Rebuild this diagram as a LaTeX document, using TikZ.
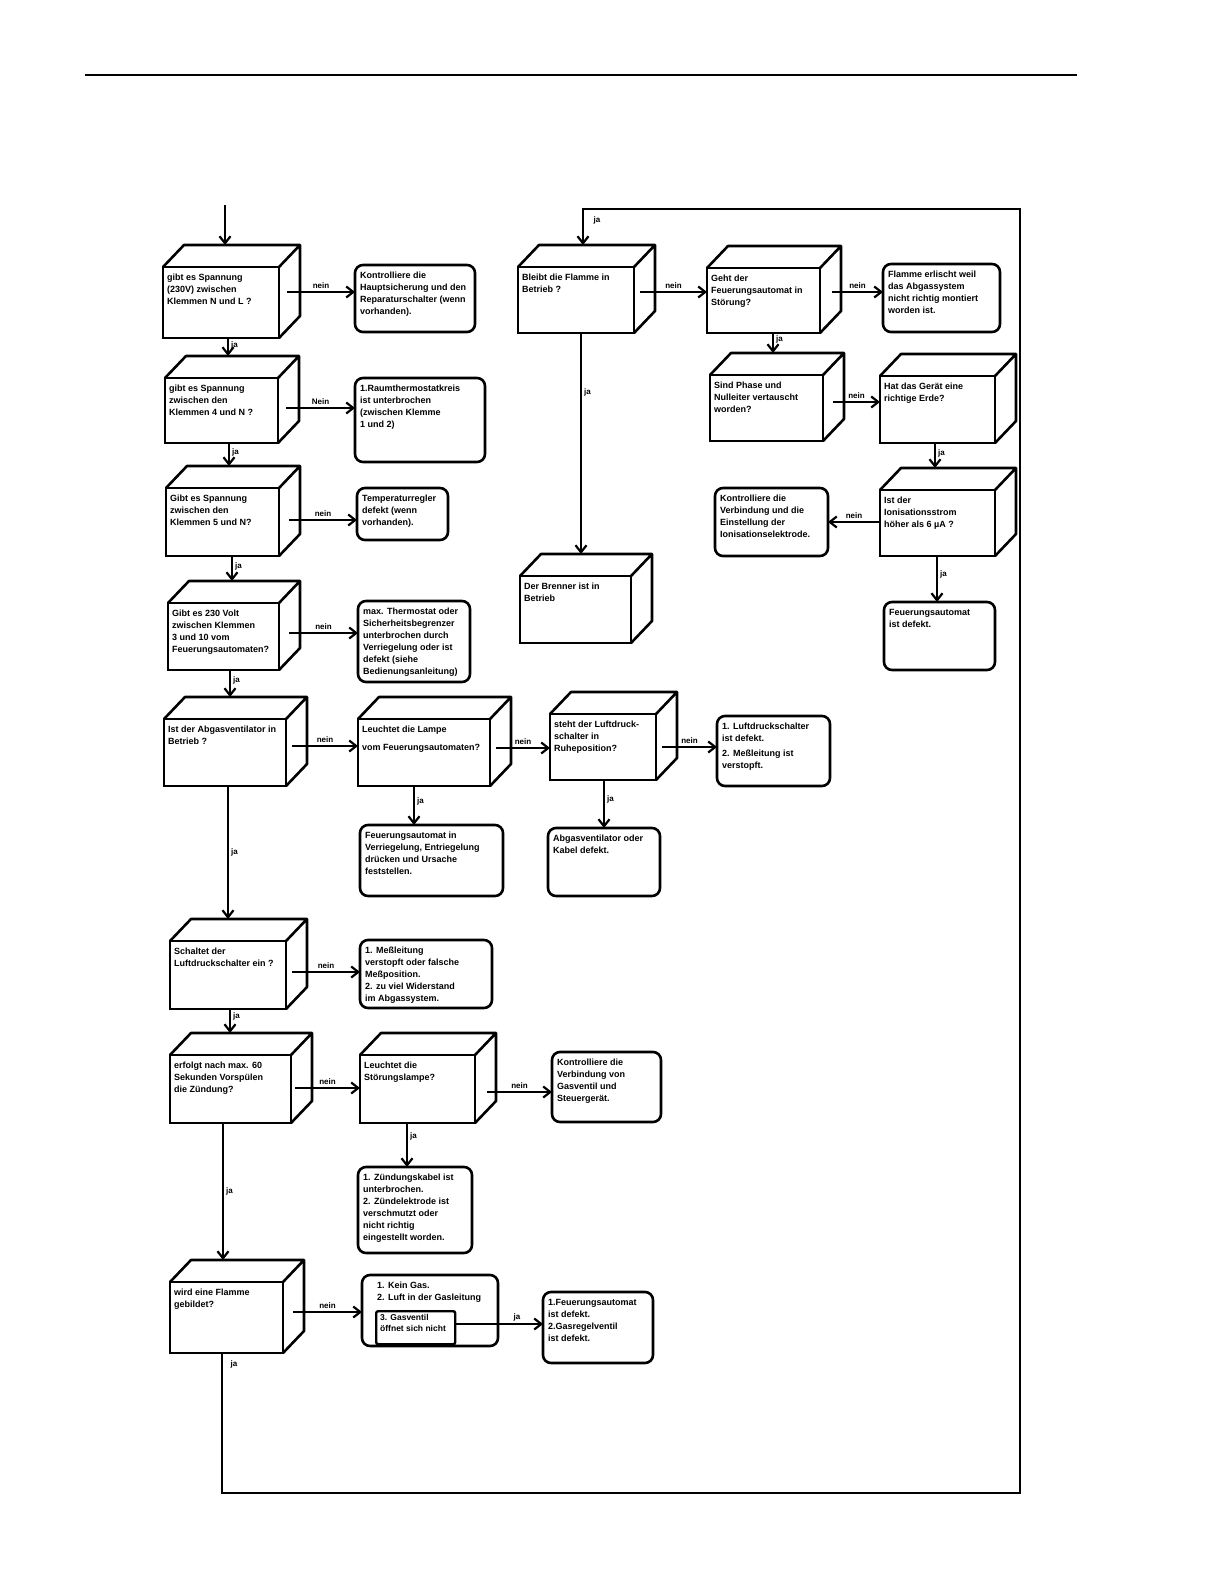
\documentclass[tikz,border=0pt]{standalone}
\usepackage{fontspec}
\setmainfont{Liberation Sans}
\usetikzlibrary{arrows.meta,calc}
\tikzset{
  box/.style={draw, line width=2.6pt, inner sep=0pt, outer sep=0pt, anchor=north west},
  res/.style={draw, line width=2.6pt, rounded corners=8pt, inner sep=0pt, outer sep=0pt, anchor=north west},
  txt/.style={anchor=north west, align=left, inner sep=0pt, font=\bfseries\fontsize{9}{12}\selectfont},
  face/.style={line width=2.6pt, line join=round},
  arr/.style={line width=2.4pt, -{Straight Barb[length=7pt,width=11pt,line width=2.2pt]}},
  lbl/.style={font=\bfseries\fontsize{8}{9}\selectfont, inner sep=2pt}
}
\newcommand\Cube[6]{%
  \node[box, minimum width={#4-#2}, minimum height={#5-#3}] (#1) at (#2,#3) {};
  \draw[face] (#1.north west) -- ++(21,-22) -- ($(#1.north east)+(21,-22)$)
    -- ($(#1.south east)+(21,-22)$) -- (#1.south east)
    (#1.north east) -- ++(21,-22);
  \node[txt] (#1t) at ($(#1.north west)+(4,7)$) {#6};
}
\newcommand\Res{}
\renewcommand\Res[6]{%
  \node[res, minimum width={#4-#2}, minimum height={#5-#3}] (#1) at (#2,#3) {};
  \node[txt] (#1t) at ($(#1.north west)+(5,7)$) {#6};
}
% horizontal arrow: from, to, y, start offset, label
\newcommand\HA[5]{\draw[arr] ($(#1.east |- 0,#3)+(#4,0)$) -- (#2.west |- 0,#3) node[lbl,above,midway]{#5};}
% vertical arrow into a cube: from, to, x, label pos
\newcommand\VC[4]{\draw[arr] (#1.south -| #3,0) -- ($(#2.north -| #3,0)+(0,-22)$) node[lbl,right,pos=#4]{ja};}
% vertical arrow into a result box
\newcommand\VR[4]{\draw[arr] (#1.south -| #3,0) -- (#2.north -| #3,0) node[lbl,right,pos=#4]{ja};}
\begin{document}
\begin{tikzpicture}[x=1pt,y=-1pt]
\fill[white] (0,0) rectangle (1224,1584);
\useasboundingbox (0,0) rectangle (1224,1584);
\draw[line width=1.2pt] (85,75) -- (1077,75);

% left column
\Cube{C1}{163}{267}{279}{338}{gibt es Spannung\\(230V) zwischen\\Klemmen N und L ?}
\Res{R1}{355}{265}{475}{332}{Kontrolliere die\\Hauptsicherung und den\\Reparaturschalter (wenn\\vorhanden).}
\Cube{C2}{165}{378}{278}{443}{gibt es Spannung\\zwischen den\\Klemmen 4 und N ?}
\Res{R2}{355}{378}{485}{462}{1.Raumthermostatkreis\\ist unterbrochen\\(zwischen Klemme\\1 und 2)}
\Cube{C3}{166}{488}{279}{556}{Gibt es Spannung\\zwischen den\\Klemmen 5 und N?}
\Res{R3}{357}{488}{448}{540}{Temperaturregler\\defekt (wenn\\vorhanden).}
\Cube{C4}{168}{603}{279}{670}{Gibt es 230 Volt\\zwischen Klemmen\\3 und 10 vom\\Feuerungsautomaten?}
\Res{R4}{358}{601}{470}{682}{max. Thermostat oder\\Sicherheitsbegrenzer\\unterbrochen durch\\Verriegelung oder ist\\defekt (siehe\\Bedienungsanleitung)}
\Cube{C5}{164}{719}{286}{786}{Ist der Abgasventilator in\\Betrieb ?}
\Cube{C6}{358}{719}{490}{786}{Leuchtet die Lampe\\[6pt]vom Feuerungsautomaten?}
\Cube{C7}{550}{714}{656}{780}{steht der Luftdruck-\\schalter in\\Ruheposition?}
\Res{R7}{717}{716}{830}{786}{1. Luftdruckschalter\\ist defekt.\\[3pt]2. Meßleitung ist\\verstopft.}
\Res{R6}{360}{825}{503}{896}{Feuerungsautomat in\\Verriegelung, Entriegelung\\drücken und Ursache\\feststellen.}
\Res{R7b}{548}{828}{660}{896}{Abgasventilator oder\\Kabel defekt.}
\Cube{C8}{170}{941}{286}{1009}{Schaltet der\\Luftdruckschalter ein ?}
\Res{R8}{360}{940}{492}{1008}{1. Meßleitung\\verstopft oder falsche\\Meßposition.\\2. zu viel Widerstand\\im Abgassystem.}
\Cube{C9}{170}{1055}{291}{1123}{erfolgt nach max. 60\\Sekunden Vorspülen\\die Zündung?}
\Cube{C10}{360}{1055}{475}{1123}{Leuchtet die\\Störungslampe?}
\Res{R10}{552}{1052}{661}{1122}{Kontrolliere die\\Verbindung von\\Gasventil und\\Steuergerät.}
\Res{R10b}{358}{1167}{472}{1253}{1. Zündungskabel ist\\unterbrochen.\\2. Zündelektrode ist\\verschmutzt oder\\nicht richtig\\eingestellt worden.}
\Cube{C11}{170}{1282}{283}{1353}{wird eine Flamme\\gebildet?}
\Res{R11}{362}{1275}{498}{1346}{\hspace*{10pt}1. Kein Gas.\\\hspace*{10pt}2. Luft in der Gasleitung}
\node[draw, line width=2.4pt, rounded corners=2pt, anchor=north west, minimum width=79, minimum height=33, inner sep=0pt] (R11i) at (375,1310) {};
\node[txt, font=\bfseries\fontsize{8.5}{11}\selectfont] (R11it) at (380,1314) {3. Gasventil\\öffnet sich nicht};
\Res{R12}{543}{1292}{653}{1363}{1.Feuerungsautomat\\ist defekt.\\2.Gasregelventil\\ist defekt.}

% right column
\Cube{C12}{518}{267}{634}{333}{Bleibt die Flamme in\\Betrieb ?}
\Cube{C13}{707}{268}{820}{333}{Geht der\\Feuerungsautomat in\\Störung?}
\Res{R13}{883}{264}{1000}{332}{Flamme erlischt weil\\das Abgassystem\\nicht richtig montiert\\worden ist.}
\Cube{C14}{710}{375}{823}{441}{Sind Phase und\\Nulleiter vertauscht\\worden?}
\Cube{C15}{880}{376}{995}{443}{Hat das Gerät eine\\richtige Erde?}
\Cube{C16}{880}{490}{995}{556}{Ist der\\Ionisationsstrom\\höher als 6 µA ?}
\Res{R16}{715}{488}{828}{556}{Kontrolliere die\\Verbindung und die\\Einstellung der\\Ionisationselektrode.}
\Res{R16b}{884}{602}{995}{670}{Feuerungsautomat\\ist defekt.}
\Cube{C17}{520}{576}{631}{643}{Der Brenner ist in\\Betrieb}

% entry arrow
\coordinate (start) at (225,205);
\draw[arr] (start) -- ($(C1.north -| 225,0)+(0,-22)$);

% horizontal arrows
\HA{C1}{R1}{292}{8}{nein}
\HA{C2}{R2}{408}{8}{Nein}
\HA{C3}{R3}{520}{10}{nein}
\HA{C4}{R4}{633}{10}{nein}
\HA{C5}{C6}{746}{6}{nein}
\HA{C6}{C7}{748}{6}{nein}
\HA{C7}{R7}{747}{6}{nein}
\HA{C8}{R8}{972}{6}{nein}
\HA{C9}{C10}{1088}{4}{nein}
\HA{C10}{R10}{1092}{12}{nein}
\HA{C11}{R11}{1312}{10}{nein}
\draw[arr] (R11i.east |- 0,1324) -- (R12.west |- 0,1324) node[lbl,above,pos=0.7]{ja};
\HA{C12}{C13}{292}{6}{nein}
\HA{C13}{R13}{292}{12}{nein}
\HA{C14}{C15}{402}{10}{nein}
\draw[arr] (C16.west |- 0,522) -- (R16.east |- 0,522) node[lbl,above,midway]{nein};

% vertical arrows
\VC{C1}{C2}{228}{0.4}
\VC{C2}{C3}{229}{0.4}
\VC{C3}{C4}{232}{0.4}
\VC{C4}{C5}{230}{0.4}
\VC{C5}{C8}{228}{0.5}
\VR{C6}{R6}{414}{0.4}
\VR{C7}{R7b}{604}{0.4}
\VC{C8}{C9}{230}{0.3}
\VC{C9}{C11}{223}{0.5}
\VR{C10}{R10b}{407}{0.3}
\VC{C12}{C17}{581}{0.27}
\VC{C13}{C14}{773}{0.3}
\VC{C15}{C16}{935}{0.4}
\VR{C16}{R16b}{937}{0.4}

% return loop
\draw[arr, line width=2.6pt] (C11.south -| 222,0) -- (222,1493) -- (1020,1493) -- (1020,209) -- (583,209) -- ($(C12.north -| 583,0)+(0,-22)$);
\node[lbl] (jaL1) at (234,1364) {ja};
\node[lbl] (jaL2) at (597,220) {ja};
\end{tikzpicture}
\end{document}
